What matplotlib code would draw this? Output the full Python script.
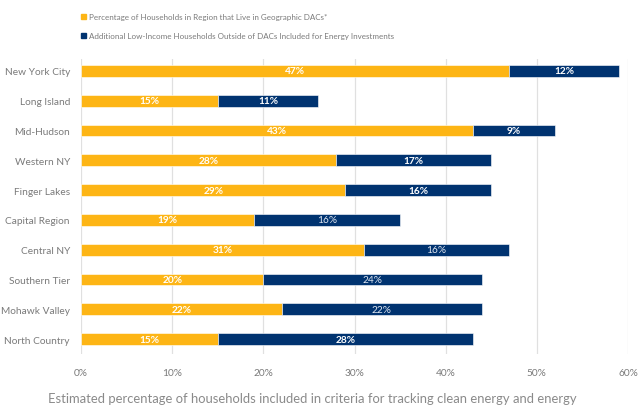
import matplotlib
matplotlib.use("Agg")
import matplotlib.pyplot as plt

regions = ["New York City", "Long Island", "Mid-Hudson", "Western NY", "Finger Lakes",
           "Capital Region", "Central NY", "Southern Tier", "Mohawk Valley", "North Country"]
dac = [47, 15, 43, 28, 29, 19, 31, 20, 22, 15]
low_income = [12, 11, 9, 17, 16, 16, 16, 24, 22, 28]
series_names = ["Percentage of Households in Region that Live in Geographic DACs*",
                "Additional Low-Income Households Outside of DACs Included for Energy Investments"]
xticks = [0, 10, 20, 30, 40, 50, 60]
xlabel = "Estimated percentage of households included in criteria for tracking clean energy and energy"

orange = "#FDB515"
navy = "#003370"
gray = "#7a7a7a"

plt.rcParams['font.family'] = ['Lato', 'DejaVu Sans']
fig = plt.figure(figsize=(6.38, 4.06), dpi=100)
ax = fig.add_axes([81/638, 1-355/406, (628-81)/638, (355-60)/406])

y = list(range(len(regions)))
h = 0.4
ax.barh(y, dac, height=h, color=orange, edgecolor="white", linewidth=0.4, zorder=3)
ax.barh(y, low_income, left=dac, height=h, color=navy, edgecolor="white", linewidth=0.4, zorder=3)

light_idx = {5, 6, 7, 8}
for i in y:
    ax.text(dac[i]/2, i, f"{dac[i]}%", ha="center", va="center", color="white",
            fontsize=7.3, fontweight="bold", zorder=4)
    if i in light_idx:
        ax.text(dac[i] + low_income[i]/2, i, f"{low_income[i]}%", ha="center", va="center",
                color="#dfe6f0", fontsize=7.3, zorder=4)
    else:
        ax.text(dac[i] + low_income[i]/2, i, f"{low_income[i]}%", ha="center", va="center",
                color="white", fontsize=7.3, fontweight="bold", zorder=4)

ax.set_xlim(0, 60)
ax.set_ylim(9.5, -0.4)
ax.set_xticks(xticks)
ax.set_xticklabels([f"{t}%" for t in xticks])
ax.set_yticks(y)
ax.set_yticklabels(regions)
ax.tick_params(axis="both", length=0, colors=gray, labelsize=7.3)
ax.tick_params(axis="x", pad=10)
ax.tick_params(axis="y", pad=8)
ax.grid(axis="x", color="#e0e0e0", linewidth=0.9, zorder=0)
for s in ax.spines.values():
    s.set_visible(False)

# legend
fig.patches.append(plt.Rectangle((81/638, 1-20/406), 5/638, 5/406, transform=fig.transFigure,
                                 color=orange))
fig.text(89/638, 1-17.5/406, series_names[0], fontsize=5.8, color=gray, va="center")
fig.patches.append(plt.Rectangle((81/638, 1-39/406), 5/638, 5/406, transform=fig.transFigure,
                                 color=navy))
fig.text(89/638, 1-36.5/406, series_names[1], fontsize=5.8, color=gray, va="center")

fig.text(312/638, 1-399/406, xlabel, fontsize=9.4, color="#8a8a8a", ha="center", va="center")

fig.savefig("out.png", dpi=100, facecolor="white")
